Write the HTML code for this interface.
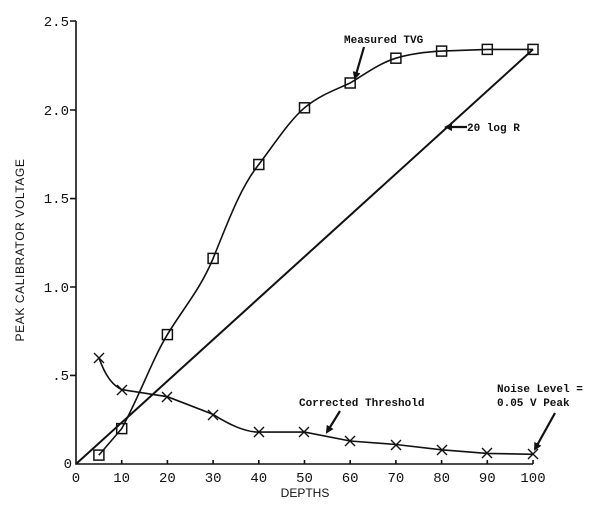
<!DOCTYPE html>
<html><head><style>body{margin:0;background:#fff}svg{display:block}</style></head><body>
<svg width="600" height="509" xmlns="http://www.w3.org/2000/svg" font-family="Liberation Mono, monospace">
<defs><marker id="ah" markerWidth="8" markerHeight="8" refX="6" refY="4" orient="auto" markerUnits="userSpaceOnUse"><path d="M0,0 L8,4 L0,8 z" fill="#111"/></marker></defs>
<g stroke="#111" stroke-width="1.6" fill="none">
<path d="M76,21 V464 H533"/>
<path d="M70,21H76M70,110H76M70,198.6H76M70,287H76M70,375.4H76"/>
<path d="M121.7,464v-4M167.4,464v-4M213.1,464v-4M258.8,464v-4M304.5,464v-4M350.2,464v-4M395.9,464v-4M441.6,464v-4M487.3,464v-4M533,464v-4"/>
<path d="M76,464 L533,49.4" stroke-width="2"/>
<path d="M98.9,455.1 L121.7,428.6 C140,395 152,360 167.4,334.6 C182,310 200,290 213.1,258.4 C228,222 240,188 258.8,164.5 C275,143 290,120 304.5,107.8 C320,95 335,90 350.2,83 C365,74 380,63 395.9,58.2 C410,54 425,52 441.6,51.1 L487.3,49.4 L533,49.4"/>
<path d="M98.9,357.7 C105,375 112,385 121.7,389.6 L167.4,396.7 L213.1,414.4 C230,425 245,432 258.8,432.1 L304.5,432.1 L350.2,441 L395.9,444.5 L441.6,449.8 L487.3,453.4 L533,454.3"/>
</g>
<g stroke="#111" stroke-width="1.5" fill="none">
<rect x="93.9" y="450.1" width="10" height="10"/><rect x="116.7" y="423.6" width="10" height="10"/><rect x="162.4" y="329.6" width="10" height="10"/><rect x="208.1" y="253.4" width="10" height="10"/><rect x="253.8" y="159.5" width="10" height="10"/><rect x="299.5" y="102.8" width="10" height="10"/><rect x="345.2" y="78" width="10" height="10"/><rect x="390.9" y="53.2" width="10" height="10"/><rect x="436.6" y="46.1" width="10" height="10"/><rect x="482.3" y="44.4" width="10" height="10"/><rect x="528" y="44.4" width="10" height="10"/>
</g>
<g stroke="#111" stroke-width="1.4">
<path d="M94,353l10,10M104,353l-10,10 M117,385l10,10M127,385l-10,10 M162,392l10,10M172,392l-10,10 M208,410l10,10M218,410l-10,10 M254,427l10,10M264,427l-10,10 M299,427l10,10M309,427l-10,10 M345,436l10,10M355,436l-10,10 M391,440l10,10M401,440l-10,10 M437,445l10,10M447,445l-10,10 M482,448l10,10M492,448l-10,10 M528,449l10,10M538,449l-10,10"/>
</g>
<g stroke="#111" stroke-width="2.2" marker-end="url(#ah)">
<line x1="364" y1="47" x2="355" y2="78"/>
<line x1="467" y1="127" x2="446" y2="127"/>
<line x1="340" y1="411" x2="327" y2="432"/>
<line x1="555" y1="413" x2="535" y2="449"/>
</g>
<g font-size="14" fill="#111" text-anchor="end">
<text x="69" y="26">2.5</text><text x="69" y="115">2.0</text><text x="69" y="203">1.5</text><text x="69" y="292">1.0</text><text x="69" y="380">.5</text><text x="72" y="468">0</text>
</g>
<g font-size="14" fill="#111" text-anchor="middle">
<text x="76" y="482">0</text><text x="121.7" y="482">10</text><text x="167.4" y="482">20</text><text x="213.1" y="482">30</text><text x="258.8" y="482">40</text><text x="304.5" y="482">50</text><text x="350.2" y="482">60</text><text x="395.9" y="482">70</text><text x="441.6" y="482">80</text><text x="487.3" y="482">90</text><text x="533" y="482">100</text>
<text x="305" y="497" font-family="Liberation Sans, sans-serif" font-size="12">DEPTHS</text>
<text transform="translate(24,250) rotate(-90)" font-family="Liberation Sans, sans-serif" font-size="12" letter-spacing="0.6">PEAK CALIBRATOR VOLTAGE</text>
</g>
<g font-size="11" font-weight="bold" fill="#111">
<text x="344" y="43">Measured TVG</text>
<text x="467" y="131">20 log R</text>
<text x="299" y="406">Corrected Threshold</text>
<text x="497" y="392">Noise Level =</text>
<text x="497" y="406">0.05 V Peak</text>
</g>
</svg>
</body></html>
